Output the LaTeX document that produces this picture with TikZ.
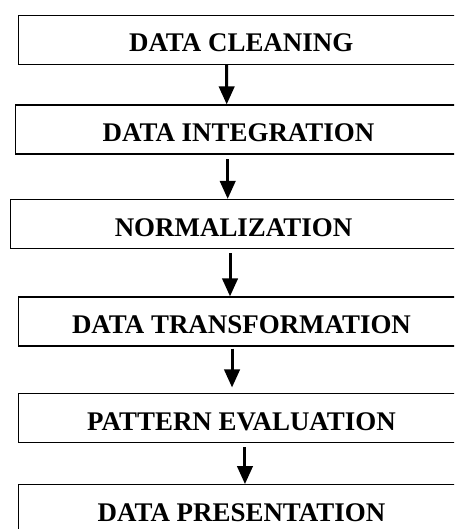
\documentclass[tikz,border=0pt]{standalone}
\usepackage{fontspec}
\setmainfont{Liberation Serif}
\usetikzlibrary{arrows.meta,positioning}

\begin{document}
\begin{tikzpicture}[x=0.75pt,y=-0.75pt]
\tikzstyle{every node}=[font=\fontsize{20.2}{24}\selectfont\bfseries]
\tikzstyle{stagebox}=[draw, line width=0.9pt, rectangle, inner sep=0pt,
  minimum width=334pt, minimum height=36.75pt, text height=18pt, text depth=0pt]
\tikzstyle{flowarrow}=[line width=2.25pt, -{Triangle[width=11.5pt,length=13.5pt]}]
\useasboundingbox (0,0) rectangle (454,529);
\clip (0,0) rectangle (454,529);

\node[stagebox] (cleaning) at (241.2,39.7) {DATA CLEANING};
\node[stagebox] (integration) at (238.5,129.5) {DATA INTEGRATION};
\node[stagebox] (normalization) at (233.5,224) {NORMALIZATION};
\node[stagebox] (transformation) at (241.5,321.5) {DATA TRANSFORMATION};
\node[stagebox] (evaluation) at (241.5,418.3) {PATTERN EVALUATION};
\node[stagebox] (presentation) at (241.5,509.2) {DATA PRESENTATION};

\draw[flowarrow] ([xshift=-10.9pt]cleaning.south) -- ([xshift=-8.85pt]integration.north);
\draw[flowarrow] ([xshift=-8.1pt,yshift=-3.5pt]integration.south) -- ([xshift=-4.35pt]normalization.north);
\draw[flowarrow] ([xshift=-2.6pt,yshift=-3.2pt]normalization.south) -- ([xshift=-8.6pt]transformation.north);
\draw[flowarrow] ([xshift=-7.1pt,yshift=-1.5pt]transformation.south) -- ([xshift=-7.1pt,yshift=4.3pt]evaluation.north);
\draw[flowarrow] ([xshift=2.6pt,yshift=-2.8pt]evaluation.south) -- ([xshift=2.6pt]presentation.north);
\end{tikzpicture}
\end{document}
